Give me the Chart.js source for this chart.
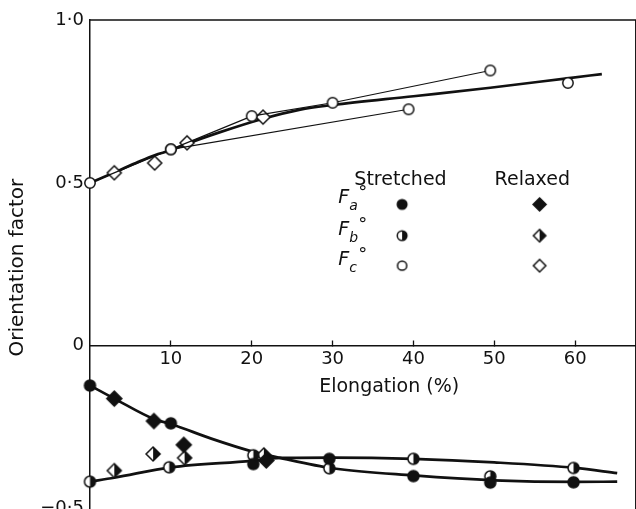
<!DOCTYPE html>
<html>
<head>
<meta charset="utf-8">
<style>
  html, body { margin: 0; padding: 0; background: #fff; overflow: hidden; }
  canvas { display: block; }
</style>
<script src="https://cdn.jsdelivr.net/npm/chart.js@4.4.1/dist/chart.umd.min.js"></script>
</head>
<body>
<canvas id="chart" width="641" height="532"></canvas>
<script>
// Axis ticks
const xTicks = [10, 20, 30, 40, 50, 60];
const yTicks = [-0.5, 0, 0.5, 1.0];
const yTickLabels = ['\u22120\u00b75', '0', '0\u00b75', '1\u00b70'];

// Fc° stretched (open circles) – measured runs joined by thin lines
const fcRun1X = [0, 10, 20, 30, 49.5];
const fcRun1Y = [0.5, 0.603, 0.705, 0.746, 0.845];
const fcRun2X = [10, 39.4];
const fcRun2Y = [0.603, 0.726];
const fcLoneX = [59.1];
const fcLoneY = [0.807];

// Fc° relaxed (open diamonds)
const fcRelaxedX = [3, 8, 12, 21.4];
const fcRelaxedY = [0.531, 0.561, 0.623, 0.702];

// Fa° stretched / relaxed
const faStretchedX = [0, 10, 20.2, 29.6, 40, 49.5, 59.8];
const faStretchedY = [-0.122, -0.238, -0.363, -0.347, -0.40, -0.42, -0.419];
const faRelaxedX = [3, 7.9, 11.6, 21.8];
const faRelaxedY = [-0.162, -0.231, -0.304, -0.352];

// Fb° stretched / relaxed
const fbStretchedX = [0, 9.8, 20.2, 29.6, 40, 49.5, 59.8];
const fbStretchedY = [-0.417, -0.373, -0.336, -0.376, -0.347, -0.401, -0.375];
const fbRelaxedX = [3, 7.8, 11.7, 21.5];
const fbRelaxedY = [-0.383, -0.332, -0.344, -0.335];

// Smooth trend curves
const fcCurveX = [0, 3, 6, 8, 10, 12, 16, 21.4, 26, 30, 40, 49.5, 59, 63.3];
const fcCurveY = [0.5, 0.532, 0.565, 0.585, 0.600, 0.62, 0.655, 0.697, 0.725, 0.739, 0.766, 0.792, 0.821, 0.834];
const faCurveX = [0, 3, 8, 10, 15, 20, 23.5, 30, 40, 50, 60, 65.2];
const faCurveY = [-0.122, -0.162, -0.226, -0.24, -0.285, -0.324, -0.344, -0.376, -0.398, -0.413, -0.418, -0.417];
const fbCurveX = [0, 3, 10, 20, 23.5, 30, 40, 50, 60, 65.2];
const fbCurveY = [-0.417, -0.405, -0.373, -0.353, -0.344, -0.343, -0.347, -0.358, -0.375, -0.391];

const INK = '#111';
const FONT = "'DejaVu Sans', sans-serif";

const pts = (xs, ys) => xs.map((x, i) => ({ x, y: ys[i] }));

// Marker sprites: open, filled, or right-half filled circles and diamonds
function marker(shape, fill, r, lw = 1.5) {
  const s = Math.ceil(2 * r + lw + 2);
  const c = document.createElement('canvas');
  c.width = c.height = s;
  const g = c.getContext('2d');
  const m = s / 2;
  const path = () => {
    g.beginPath();
    if (shape === 'circle') {
      g.arc(m, m, r, 0, Math.PI * 2);
    } else {
      g.moveTo(m, m - r); g.lineTo(m + r, m); g.lineTo(m, m + r); g.lineTo(m - r, m); g.closePath();
    }
  };
  path();
  g.fillStyle = fill === 'full' ? INK : '#fff';
  g.fill();
  if (fill === 'half') {
    g.save(); path(); g.clip();
    g.fillStyle = INK; g.fillRect(m, 0, m, s);
    g.restore();
  }
  path();
  g.lineWidth = lw; g.strokeStyle = INK; g.stroke();
  return c;
}

const M = {
  oc: marker('circle', 'open', 5.2),
  fc: marker('circle', 'full', 5.5),
  hc: marker('circle', 'half', 5.5),
  od: marker('diamond', 'open', 7),
  fd: marker('diamond', 'full', 7.5),
  hd: marker('diamond', 'half', 7),
  keyFc: marker('circle', 'full', 4.8),
  keyHc: marker('circle', 'half', 4.8),
  keyOc: marker('circle', 'open', 4.6),
  keyFd: marker('diamond', 'full', 6.5),
  keyHd: marker('diamond', 'half', 6.2),
  keyOd: marker('diamond', 'open', 6.2)
};

const markerSet = (label, xs, ys, style, line) => ({
  label, data: pts(xs, ys), pointStyle: style, showLine: !!line,
  borderColor: INK, borderWidth: 1.2, backgroundColor: INK
});
const curve = (label, xs, ys) => ({
  label, data: pts(xs, ys), showLine: true, pointRadius: 0,
  borderColor: INK, borderWidth: 2.7, cubicInterpolationMode: 'monotone'
});

// Chart frame: top and right edges
const frame = {
  id: 'frame',
  afterDraw(chart) {
    const { ctx, chartArea: a } = chart;
    ctx.save();
    ctx.strokeStyle = INK; ctx.lineWidth = 1.5;
    ctx.beginPath();
    ctx.moveTo(a.left, a.top); ctx.lineTo(a.right, a.top); ctx.lineTo(a.right, a.bottom);
    ctx.stroke();
    ctx.restore();
  }
};

// X-axis title and symbol key
const annotations = {
  id: 'annotations',
  afterDraw(chart) {
    const { ctx, scales: { x, y } } = chart;
    ctx.save();
    ctx.fillStyle = INK;
    ctx.textBaseline = 'middle';
    ctx.textAlign = 'center';
    ctx.font = `19px ${FONT}`;
    ctx.fillText('Elongation (%)', x.getPixelForValue(37), y.getPixelForValue(0) + 41);

    const head = y.getPixelForValue(0.508);
    ctx.fillText('Stretched', x.getPixelForValue(38.4), head);
    ctx.fillText('Relaxed', x.getPixelForValue(54.7), head);

    const rows = [
      { sub: 'a', s: M.keyFc, r: M.keyFd, v: 0.434 },
      { sub: 'b', s: M.keyHc, r: M.keyHd, v: 0.338 },
      { sub: 'c', s: M.keyOc, r: M.keyOd, v: 0.246 }
    ];
    const fx = x.getPixelForValue(30.7);
    const sx = x.getPixelForValue(38.6);
    const rx = x.getPixelForValue(55.6);
    rows.forEach(row => {
      const py = y.getPixelForValue(row.v);
      ctx.textAlign = 'left';
      ctx.textBaseline = 'alphabetic';
      ctx.font = `italic 19px ${FONT}`;
      ctx.fillText('F', fx, py - 1);
      ctx.font = `italic 14px ${FONT}`;
      ctx.fillText(row.sub, fx + 11, py + 6);
      ctx.font = `18px ${FONT}`;
      ctx.fillText('\u00b0', fx + 20, py - 6);
      ctx.drawImage(row.s, sx - row.s.width / 2, py - row.s.height / 2);
      ctx.drawImage(row.r, rx - row.r.width / 2, py - row.r.height / 2);
    });
    ctx.restore();
  }
};

new Chart(document.getElementById('chart'), {
  type: 'scatter',
  data: {
    datasets: [
      markerSet('Fc stretched run 1', fcRun1X, fcRun1Y, M.oc, true),
      markerSet('Fc stretched run 2', fcRun2X, fcRun2Y, M.oc, true),
      markerSet('Fc stretched', fcLoneX, fcLoneY, M.oc, false),
      markerSet('Fc relaxed', fcRelaxedX, fcRelaxedY, M.od, false),
      markerSet('Fa stretched', faStretchedX, faStretchedY, M.fc, false),
      markerSet('Fb stretched', fbStretchedX, fbStretchedY, M.hc, false),
      markerSet('Fa relaxed', faRelaxedX, faRelaxedY, M.fd, false),
      markerSet('Fb relaxed', fbRelaxedX, fbRelaxedY, M.hd, false),
      curve('Fc trend', fcCurveX, fcCurveY),
      curve('Fa trend', faCurveX, faCurveY),
      curve('Fb trend', fbCurveX, fbCurveY)
    ]
  },
  options: {
    responsive: false,
    animation: false,
    events: [],
    clip: false,
    layout: { padding: { top: 20, right: 1, bottom: 0, left: 0 } },
    datasets: { scatter: { clip: false } },
    plugins: { legend: { display: false }, tooltip: { enabled: false } },
    scales: {
      x: {
        type: 'linear', min: 0, max: 67.5,
        position: { y: 0 },
        afterBuildTicks: s => { s.ticks = xTicks.map(value => ({ value })); },
        ticks: { color: INK, font: { family: FONT, size: 18 }, padding: 9, maxRotation: 0, callback: v => String(v) },
        grid: { drawOnChartArea: false, drawTicks: true, tickLength: -6, tickWidth: 1.3, color: INK },
        border: { display: true, width: 1.5, color: INK }
      },
      y: {
        type: 'linear', min: -0.52, max: 1.0,
        position: 'left',
        afterBuildTicks: s => { s.ticks = yTicks.map(value => ({ value })); },
        afterFit: s => { s.width = 90; },
        ticks: { color: INK, font: { family: FONT, size: 18 }, padding: 6,
                 callback: v => { const i = yTicks.indexOf(v); return i >= 0 ? yTickLabels[i] : ''; } },
        grid: { drawOnChartArea: false, drawTicks: false },
        border: { display: true, width: 1.5, color: INK },
        title: { display: true, text: 'Orientation factor', color: INK,
                 font: { family: FONT, size: 20 }, padding: { top: 6, bottom: 0 } }
      }
    }
  },
  plugins: [frame, annotations]
});
</script>
</body>
</html>
